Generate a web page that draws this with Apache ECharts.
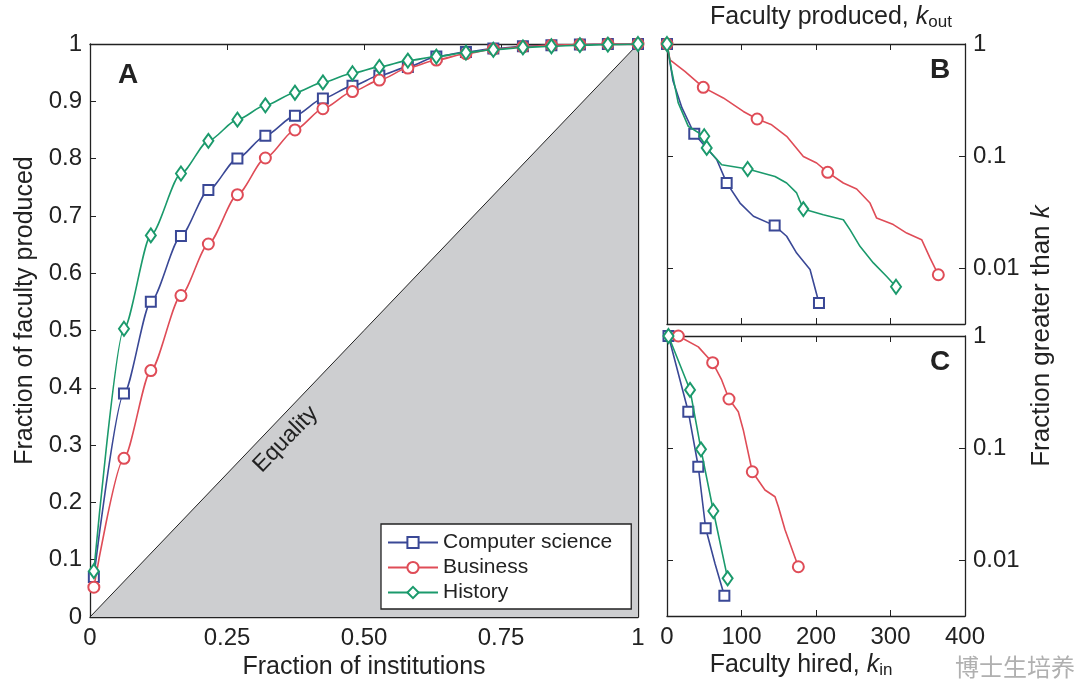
<!DOCTYPE html>
<html>
<head>
<meta charset="utf-8">
<script src="https://cdn.jsdelivr.net/npm/echarts@6/dist/echarts.min.js"></script>
<style>
  html, body { margin: 0; padding: 0; background: #fff; }
  #chart { width: 1080px; height: 687px; }
</style>
</head>
<body>
<div id="chart"></div>
<script>
const names = ['Computer science', 'Business', 'History'];
const colors = ['#3a4896', '#df4c57', '#1b9a6c'];
const symbols = ['emptyRect', 'emptyCircle', 'emptyDiamond'];
const symbolSizes = [10, 11, [10, 14]];

// panel A: cumulative share of faculty vs share of institutions
const instFrac = [0.007, 0.062, 0.111, 0.166, 0.216, 0.269, 0.32, 0.374, 0.425, 0.479,
  0.528, 0.58, 0.632, 0.686, 0.736, 0.79, 0.842, 0.894, 0.945, 1];
const lorenzCS = [0.07, 0.39, 0.55, 0.665, 0.745, 0.80, 0.84, 0.875, 0.905, 0.927,
  0.945, 0.96, 0.978, 0.986, 0.992, 0.996, 0.998, 0.999, 1, 1];
const lorenzBusiness = [0.052, 0.277, 0.43, 0.561, 0.651, 0.737, 0.801, 0.85, 0.887, 0.917,
  0.937, 0.958, 0.972, 0.983, 0.991, 0.995, 0.998, 0.999, 1, 1];
const lorenzHistory = [0.08, 0.503, 0.666, 0.774, 0.831, 0.868, 0.893, 0.915, 0.933, 0.949,
  0.96, 0.971, 0.978, 0.985, 0.99, 0.994, 0.996, 0.998, 0.999, 1];
const equality = [[0, 0], [1, 1]];
const equalityLabelAt = [0.357, 0.31];

// panel B: fraction with k_out greater than k
const koutCS = [[0, 1], [8, 0.47], [20, 0.27], [36.6, 0.158], [53, 0.118], [66.7, 0.093], [80.1, 0.0575],
  [98, 0.038], [116, 0.029], [144.5, 0.0239], [160.6, 0.0192], [174, 0.0136], [192, 0.0097], [204, 0.00487]];
const koutCSMarks = [0, 3, 6, 9, 13];
const koutBusiness = [[0, 1], [4, 0.72], [24, 0.57], [48.7, 0.41], [75.6, 0.33], [102.5, 0.25], [121, 0.214],
  [140.5, 0.19], [160.6, 0.15], [183, 0.099], [200.9, 0.0866], [215.7, 0.0715], [236.7, 0.0574], [254.6, 0.0507],
  [272.5, 0.038], [281.4, 0.0279], [303.8, 0.0244], [321.7, 0.0205], [341.8, 0.0179], [353, 0.0123], [364.2, 0.0087]];
const koutBusinessMarks = [0, 3, 6, 11, 20];
const koutHistory = [[0, 1], [6, 0.59], [15, 0.3], [28.6, 0.184], [50, 0.15], [53.3, 0.118], [73.4, 0.0836],
  [108.3, 0.0766], [145, 0.0657], [160.6, 0.0574], [174, 0.0468], [183, 0.0336], [209.8, 0.0299], [236.7, 0.027],
  [245.6, 0.022], [259, 0.0156], [277, 0.0111], [294.9, 0.0084], [307.4, 0.0068]];
const koutHistoryMarks = [0, 4, 5, 7, 11, 18];

// panel C: fraction with k_in greater than k
const kinCS = [[2, 1], [28.6, 0.211], [42, 0.068], [51.9, 0.0192], [64.4, 0.0093], [77, 0.0048]];
const kinCSMarks = [0, 1, 2, 3, 5];
const kinBusiness = [[15.2, 1], [42, 0.8], [61.3, 0.578], [73.4, 0.405], [83.2, 0.274], [95.7, 0.211],
  [102.4, 0.145], [114.5, 0.0614], [131.5, 0.0422], [145, 0.0367], [149.4, 0.03], [158.4, 0.0186], [176.3, 0.0087]];
const kinBusinessMarks = [0, 2, 4, 7, 12];
const kinHistory = [[2, 1], [30.9, 0.33], [45.6, 0.0973], [62.2, 0.0274], [81.4, 0.00686]];
const kinHistoryMarks = [0, 1, 2, 3, 4];

const FONT = 'Liberation Sans';
const INK = '#222';
const LOG_MIN = 0.0031623;

const chart = echarts.init(document.getElementById('chart'), null, { renderer: 'canvas' });

const lineAxis = { show: true, onZero: false, lineStyle: { color: INK, width: 1.3 } };
const tickIn = { show: true, inside: true, length: 6, lineStyle: { color: INK, width: 1 } };
const labelStyle = { color: INK, fontFamily: FONT, fontSize: 24 };
const titleStyle = { color: INK, fontFamily: FONT, fontSize: 25 };
const subRich = {
  t: titleStyle,
  k: Object.assign({}, titleStyle, { fontStyle: 'italic' }),
  s: { color: INK, fontFamily: FONT, fontSize: 17, padding: [11, 0, 0, 0] },
};

function fmtA(v, digits) {
  if (Math.abs(v) < 1e-9) return '0';
  if (Math.abs(v - 1) < 1e-9) return '1';
  return v.toFixed(digits);
}

function logLabel(v) {
  const e = Math.log10(v);
  if (Math.abs(e - Math.round(e)) > 1e-6) return '';
  return String(Math.pow(10, Math.round(e)));
}

function boxAxis(gridIndex, position, extra) {
  return Object.assign({
    gridIndex, position, type: 'value',
    axisLine: lineAxis, axisTick: tickIn, axisLabel: { show: false }, splitLine: { show: false },
  }, extra);
}

const kAxisX = { min: 0, max: 400, interval: 100 };
const logAxis = { type: 'log', logBase: 10, min: LOG_MIN, max: 1 };

const xAxis = [
  boxAxis(0, 'bottom', {
    min: 0, max: 1, interval: 0.25,
    axisLabel: Object.assign({ show: true, margin: 9, formatter: (v) => fmtA(v, 2) }, labelStyle),
    name: 'Fraction of institutions', nameLocation: 'middle', nameGap: 35,
    nameTextStyle: titleStyle,
  }),
  boxAxis(0, 'top', { min: 0, max: 1, interval: 0.25 }),
  boxAxis(1, 'bottom', kAxisX),
  boxAxis(1, 'top', Object.assign({
    name: '{t|Faculty produced, }{k|k}{s|out}', nameLocation: 'middle', nameGap: 13,
    nameTextStyle: { padding: [0, 0, 0, 30], rich: subRich },
  }, kAxisX)),
  boxAxis(2, 'bottom', Object.assign({
    axisLabel: Object.assign({ show: true, margin: 9 }, labelStyle),
    name: '{t|Faculty hired, }{k|k}{s|in}', nameLocation: 'middle', nameGap: 35,
    nameTextStyle: { padding: [0, 30, 0, 0], rich: subRich },
  }, kAxisX)),
  boxAxis(2, 'top', kAxisX),
];

const yAxis = [
  boxAxis(0, 'left', {
    min: 0, max: 1, interval: 0.1,
    axisLabel: Object.assign({ show: true, margin: 8, formatter: (v) => fmtA(v, 1) }, labelStyle),
    name: 'Fraction of faculty produced', nameLocation: 'middle', nameGap: 52,
    nameTextStyle: Object.assign({ padding: [0, 0, 0, 40] }, titleStyle),
  }),
  boxAxis(0, 'right', { min: 0, max: 1, interval: 0.1 }),
  boxAxis(1, 'right', Object.assign({
    axisLabel: Object.assign({ show: true, margin: 8, formatter: logLabel }, labelStyle),
  }, logAxis)),
  boxAxis(1, 'left', logAxis),
  boxAxis(2, 'right', Object.assign({
    axisLabel: Object.assign({ show: true, margin: 8, formatter: logLabel }, labelStyle),
  }, logAxis)),
  boxAxis(2, 'left', logAxis),
];

function markerStyle(i) {
  return {
    symbol: symbols[i],
    symbolSize: symbolSizes[i],
    itemStyle: { color: colors[i], borderWidth: 1.5, opacity: 1 },
  };
}

const lorenz = [lorenzCS, lorenzBusiness, lorenzHistory];
const kout = [koutCS, koutBusiness, koutHistory];
const koutMarks = [koutCSMarks, koutBusinessMarks, koutHistoryMarks];
const kin = [kinCS, kinBusiness, kinHistory];
const kinMarks = [kinCSMarks, kinBusinessMarks, kinHistoryMarks];

const series = [{
  type: 'line', xAxisIndex: 0, yAxisIndex: 0, data: equality, silent: true,
  symbol: 'none', lineStyle: { color: INK, width: 1 },
  areaStyle: { color: '#cdced0', opacity: 1 },
}];

names.forEach((name, i) => {
  series.push(Object.assign({
    name, type: 'line', xAxisIndex: 0, yAxisIndex: 0,
    data: instFrac.map((x, j) => [x, lorenz[i][j]]),
    smooth: 0.25, smoothMonotone: 'x',
    lineStyle: { color: colors[i], width: 1.6 },
    z: 3 + i,
  }, markerStyle(i)));
});

[[kout, koutMarks, 1], [kin, kinMarks, 2]].forEach(([sets, marks, axis]) => {
  names.forEach((name, i) => {
    series.push({
      name, type: 'line', xAxisIndex: axis * 2, yAxisIndex: axis * 2,
      data: sets[i], symbol: 'none', lineStyle: { color: colors[i], width: 1.6 },
      itemStyle: { color: colors[i] }, z: 3 + i,
    });
    series.push(Object.assign({
      name, type: 'scatter', xAxisIndex: axis * 2, yAxisIndex: axis * 2,
      data: marks[i].map((j) => sets[i][j]), z: 4 + i,
    }, markerStyle(i)));
  });
});

const letter = (text, x, y) => ({
  type: 'text', x, y, style: { text, font: 'bold 28px ' + FONT, fill: INK, align: 'center', verticalAlign: 'middle' },
});

chart.setOption({
  backgroundColor: '#fff',
  animation: false,
  textStyle: { fontFamily: FONT },
  grid: [
    { left: 90, top: 44, width: 548, height: 573 },
    { left: 667, top: 44, width: 298, height: 280 },
    { left: 667, top: 336, width: 298, height: 280 },
  ],
  legend: {
    data: names, orient: 'vertical', left: 381, top: 524,
    itemWidth: 50, itemHeight: 14, itemGap: 4,
    padding: [8, 19, 6, 6],
    backgroundColor: '#fff', borderColor: INK, borderWidth: 1.3,
    textStyle: { color: INK, fontFamily: FONT, fontSize: 21, lineHeight: 19 },
  },
  xAxis, yAxis, series,
  graphic: [
    letter('A', 128, 75),
    letter('B', 940, 70),
    letter('C', 940, 362),
    {
      type: 'text', x: 1042, y: 336, rotation: Math.PI / 2,
      style: {
        text: '{n|Fraction greater than }{k|k}', align: 'center', verticalAlign: 'middle',
        rich: {
          n: { fill: INK, fontFamily: FONT, fontSize: 26 },
          k: { fill: INK, fontFamily: FONT, fontSize: 26, fontStyle: 'italic' },
        },
      },
    },
    { type: 'text', x: 1075, y: 667, style: { text: '博士生培养', font: '24px "Noto Sans CJK SC"', fill: '#b0b0b0', align: 'right', verticalAlign: 'middle' } },
  ],
});

// "Equality" sits just inside the shaded triangle, along the diagonal
const eqPos = chart.convertToPixel({ gridIndex: 0 }, equalityLabelAt);
chart.setOption({
  graphic: [{
    type: 'text', id: 'equality', x: eqPos[0], y: eqPos[1], rotation: 46 * Math.PI / 180, z: 10,
    style: { text: 'Equality', font: '23px ' + FONT, fill: INK, align: 'center', verticalAlign: 'middle' },
  }],
});
</script>
</body>
</html>
